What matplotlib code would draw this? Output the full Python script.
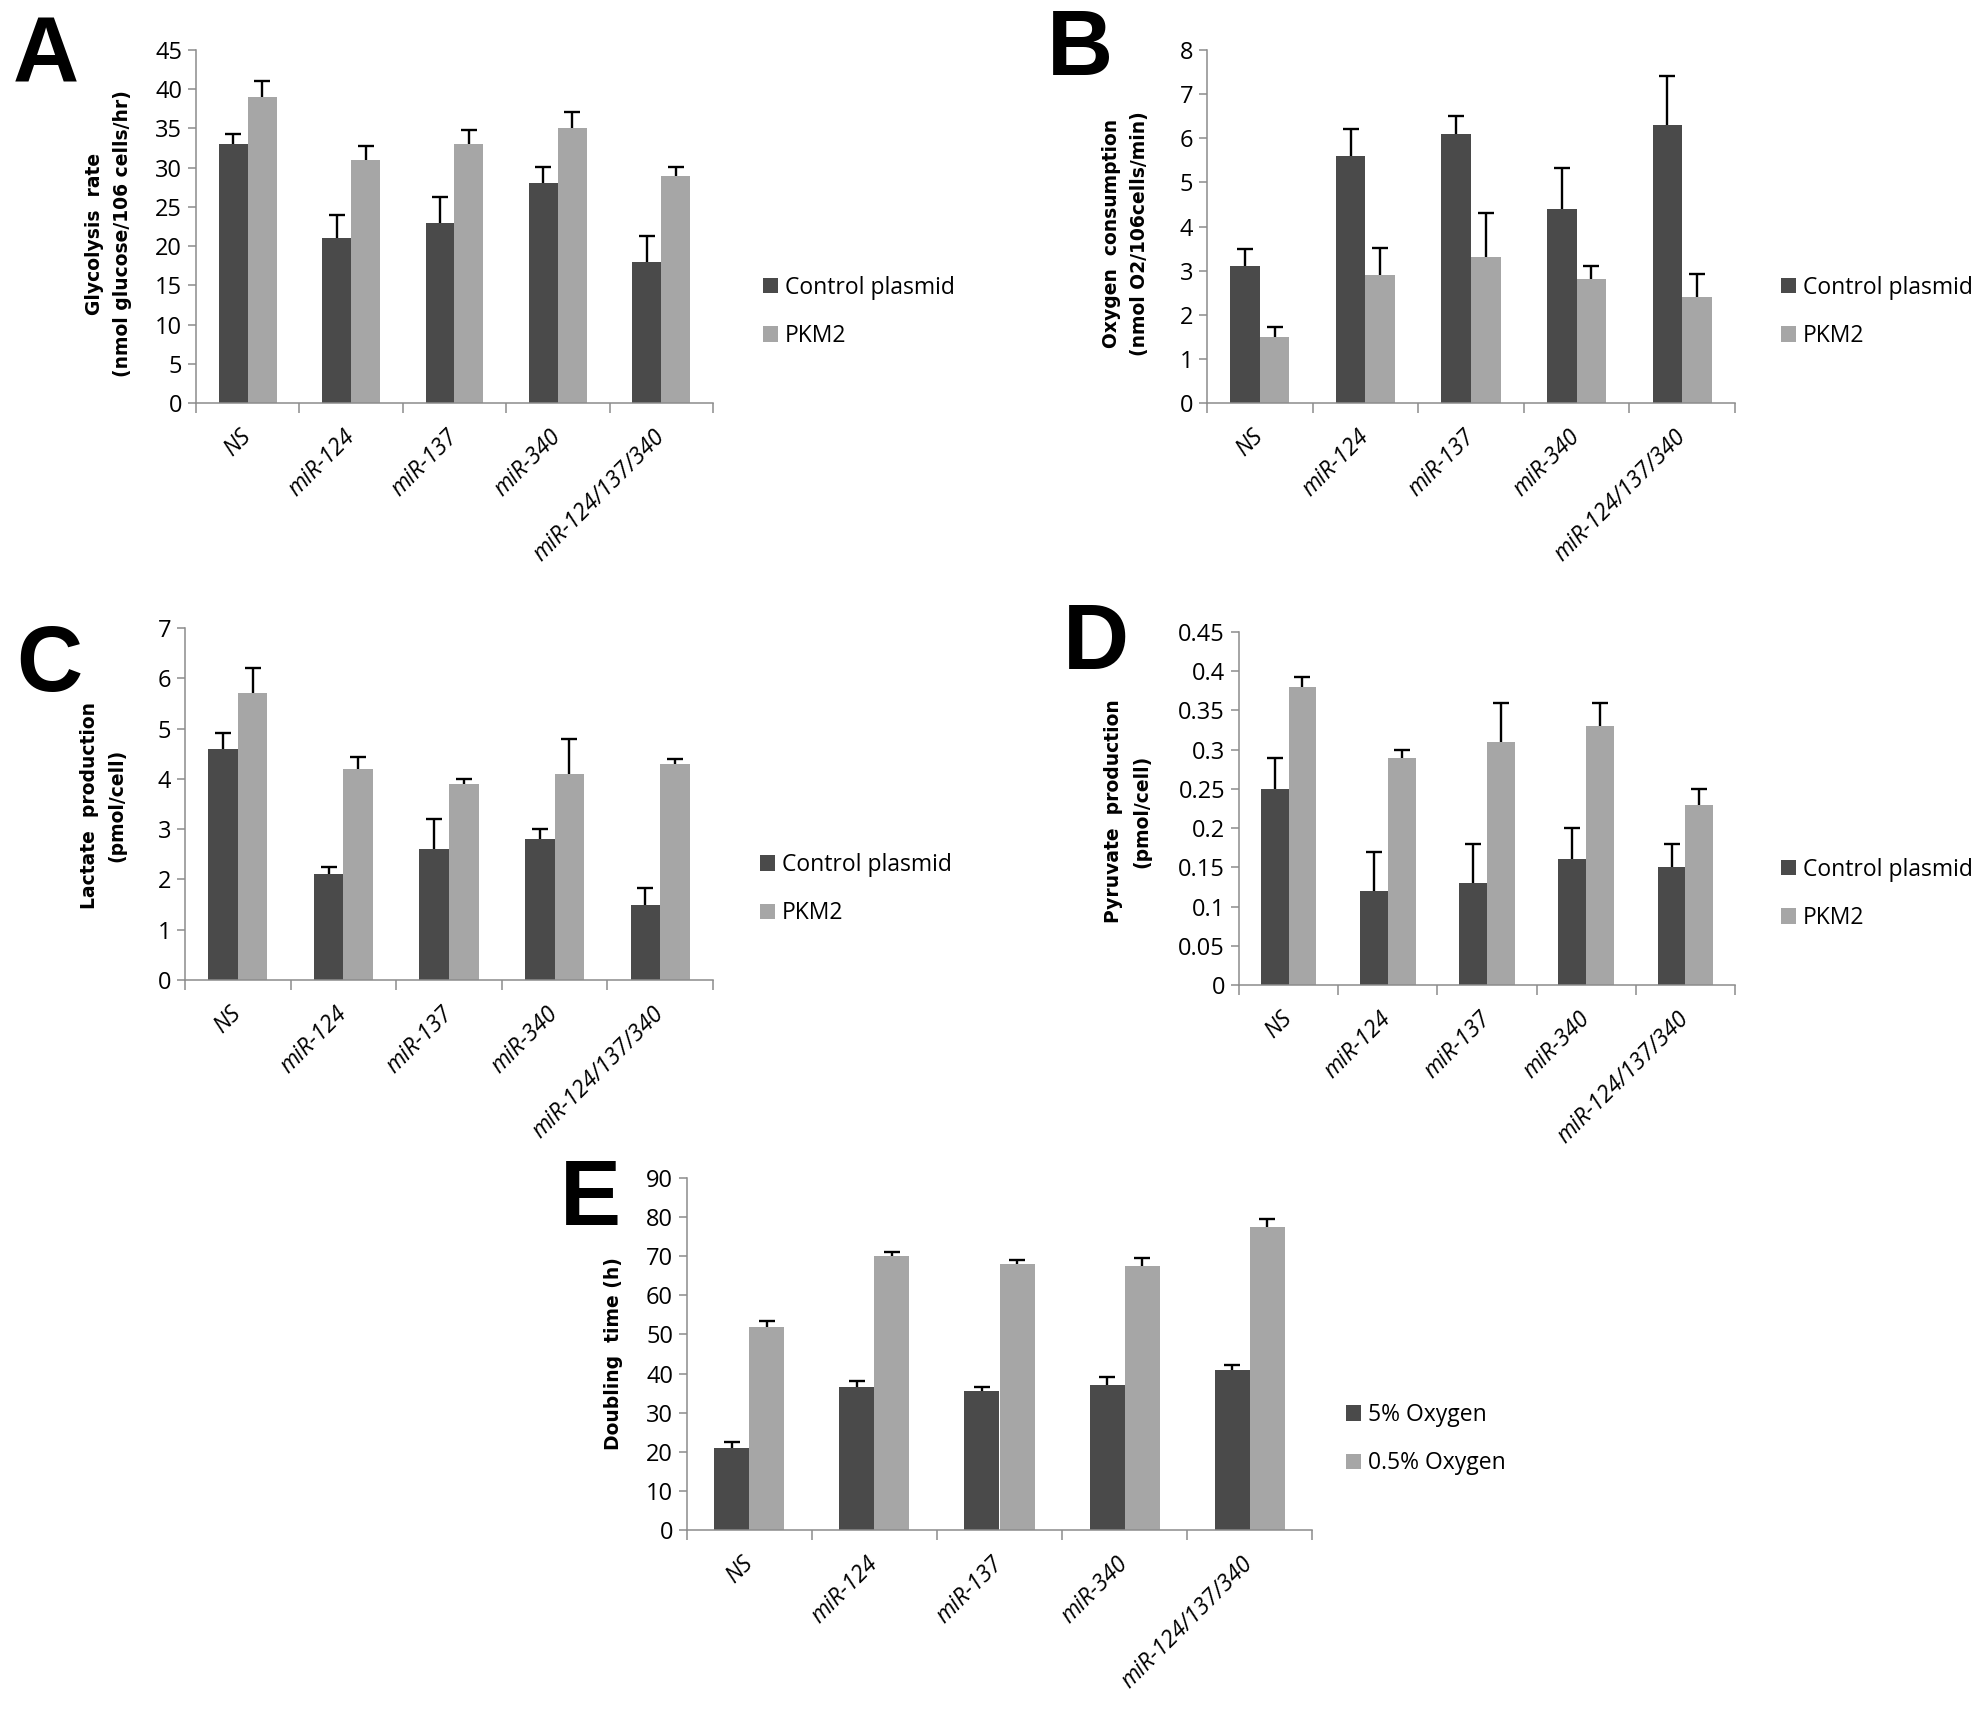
import numpy as np
import matplotlib
matplotlib.use('Agg')
import matplotlib.pyplot as plt
from matplotlib.ticker import FormatStrFormatter

groups = ['NS', 'miR-124', 'miR-137', 'miR-340', 'miR-124/137/340']

# A - glycolysis
a_ctrl = [33, 21, 23, 28, 18]
a_ctrl_err = [1.3, 3.0, 3.3, 2.1, 3.3]
a_pkm2 = [39, 31, 33, 35, 29]
a_pkm2_err = [2.0, 1.7, 1.8, 2.1, 1.1]

# B - oxygen consumption
b_ctrl = [3.1, 5.6, 6.1, 4.4, 6.3]
b_ctrl_err = [0.4, 0.62, 0.4, 0.92, 1.12]
b_pkm2 = [1.5, 2.9, 3.3, 2.8, 2.4]
b_pkm2_err = [0.22, 0.62, 1.0, 0.3, 0.52]

# C - lactate
c_ctrl = [4.6, 2.1, 2.6, 2.8, 1.5]
c_ctrl_err = [0.32, 0.14, 0.6, 0.2, 0.32]
c_pkm2 = [5.7, 4.2, 3.9, 4.1, 4.3]
c_pkm2_err = [0.5, 0.24, 0.1, 0.7, 0.1]

# D - pyruvate
d_ctrl = [0.25, 0.12, 0.13, 0.16, 0.15]
d_ctrl_err = [0.04, 0.05, 0.05, 0.04, 0.03]
d_pkm2 = [0.38, 0.29, 0.31, 0.33, 0.23]
d_pkm2_err = [0.012, 0.01, 0.05, 0.03, 0.02]

# E - doubling time
e_5 = [21, 36.5, 35.5, 37, 41]
e_5_err = [1.5, 1.5, 1.0, 2.0, 1.2]
e_05 = [52, 70, 68, 67.5, 77.5]
e_05_err = [1.5, 1.0, 1.0, 2.0, 2.0]

DARK = '#4a4a4a'
LIGHT = '#a6a6a6'
AXC = '#8c8c8c'
TICKFONT = ['Open Sans', 'DejaVu Sans']

W, H = 1983, 1713
fig = plt.figure(figsize=(W / 100, H / 100), dpi=100)


def px_axes(left, top, right, bottom):
    return fig.add_axes([left / W, 1 - bottom / H, (right - left) / W, (bottom - top) / H])


def panel(ax, s1, e1, s2, e2, names, ymax, ystep, ylabel, lab_x, lab_y, leg_x, fmt=None):
    x = np.arange(len(groups))
    w = 0.28
    ax.bar(x - w / 2, s1, w, color=DARK, label=names[0], zorder=2)
    ax.bar(x + w / 2, s2, w, color=LIGHT, label=names[1], zorder=2)
    # only the upper half of each error bar is shown
    for xs, v, e in ((x - w / 2, s1, e1), (x + w / 2, s2, e2)):
        _, caps, _ = ax.errorbar(xs, v, yerr=[np.zeros(len(v)), e], fmt='none',
                                 ecolor='black', elinewidth=1.7, capsize=5.5,
                                 capthick=1.7, zorder=3)
        caps[0].set_visible(False)
    ax.set_xlim(-0.5, len(groups) - 0.5)
    ax.set_ylim(0, ymax)
    ax.set_yticks(np.arange(0, ymax + ystep / 2, ystep))
    if fmt:
        ax.yaxis.set_major_formatter(FormatStrFormatter(fmt))
    ax.set_xticks(np.arange(-0.5, len(groups), 1))
    ax.set_xticklabels([])
    ax.set_xticks(x, minor=True)
    ax.set_xticklabels(groups, minor=True, rotation=45, ha='right', va='center',
                       rotation_mode='anchor', style='italic', family=TICKFONT,
                       fontsize=16.5)
    ax.tick_params(axis='x', which='minor', length=0, pad=22)
    ax.tick_params(axis='x', which='major', length=7, width=1.1, color=AXC)
    ax.tick_params(axis='y', length=6, width=1.1, color=AXC, pad=4, labelsize=17)
    for t in ax.get_yticklabels():
        t.set_family(TICKFONT)
    for s in ('top', 'right'):
        ax.spines[s].set_visible(False)
    for s in ('left', 'bottom'):
        ax.spines[s].set_color(AXC)
        ax.spines[s].set_linewidth(1.1)
    ax.set_ylabel(ylabel, fontsize=13.5, fontweight='bold', family='DejaVu Sans',
                  va='center', linespacing=1.6)
    ax.yaxis.set_label_coords(lab_x, lab_y)
    ax.legend(loc='center left', bbox_to_anchor=(leg_x, 0.258), frameon=False,
              borderpad=0, borderaxespad=0, handlelength=0.65, handleheight=0.65,
              handletextpad=0.3, labelspacing=1.05,
              prop={'family': TICKFONT, 'size': 16.5})


pl_names = ['Control plasmid', 'PKM2']

axA = px_axes(196, 50, 713, 403)
panel(axA, a_ctrl, a_ctrl_err, a_pkm2, a_pkm2_err, pl_names, 45, 5,
      'Glycolysis  rate\n(nmol glucose/106 cells/hr)', -0.17, 0.48, 1.097)

axB = px_axes(1207, 50, 1735, 403)
panel(axB, b_ctrl, b_ctrl_err, b_pkm2, b_pkm2_err, pl_names, 8, 1,
      'Oxygen  consumption\n(nmol O2/106cells/min)', -0.155, 0.48, 1.087)

axC = px_axes(185, 628, 713, 980)
panel(axC, c_ctrl, c_ctrl_err, c_pkm2, c_pkm2_err, pl_names, 7, 1,
      'Lactate  production\n(pmol/cell)', -0.155, 0.497, 1.089)

axD = px_axes(1239, 632, 1735, 985)
panel(axD, d_ctrl, d_ctrl_err, d_pkm2, d_pkm2_err, pl_names, 0.45, 0.05,
      'Pyruvate  production\n(pmol/cell)', -0.225, 0.493, 1.093, fmt='%g')

axE = px_axes(687, 1178, 1312, 1530)
panel(axE, e_5, e_5_err, e_05, e_05_err, ['5% Oxygen', '0.5% Oxygen'], 90, 10,
      'Doubling  time (h)', -0.118, 0.5, 1.055)

for letter, lx, ly in (('A', 13, 14), ('B', 1047, 8), ('C', 16, 624), ('D', 1063, 602),
                       ('E', 560, 1158)):
    fig.text(lx / W, 1 - ly / H, letter, fontsize=66, fontweight='bold',
             family='Liberation Sans', ha='left', va='top')

fig.savefig('out.png', dpi=100)
